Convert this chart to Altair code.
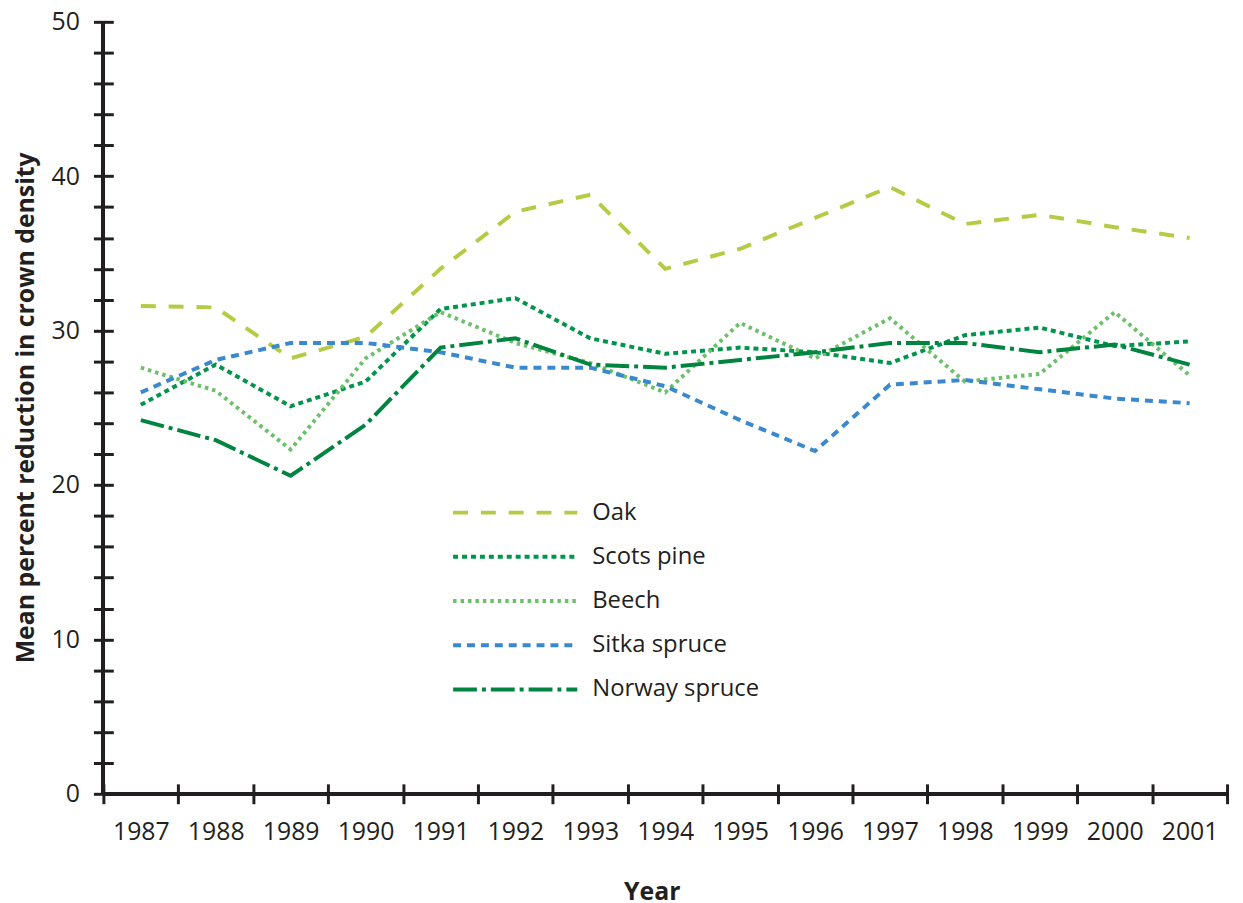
import altair as alt
import pandas as pd

years = [str(y) for y in range(1987, 2002)]
species = ["Oak", "Scots pine", "Beech", "Sitka spruce", "Norway spruce"]
oak = [31.6, 31.5, 28.2, 29.6, 34.0, 37.7, 38.8, 34.0, 35.3, 37.3, 39.3, 36.9, 37.5, 36.7, 36.0]
scots_pine = [25.2, 27.8, 25.1, 26.7, 31.4, 32.1, 29.5, 28.5, 28.9, 28.6, 27.9, 29.7, 30.2, 29.0, 29.3]
beech = [27.6, 26.1, 22.3, 28.2, 31.2, 29.2, 27.9, 26.0, 30.5, 28.2, 30.8, 26.7, 27.2, 31.2, 27.1]
sitka_spruce = [26.0, 28.1, 29.2, 29.2, 28.6, 27.6, 27.6, 26.4, 24.2, 22.2, 26.5, 26.8, 26.2, 25.6, 25.3]
norway_spruce = [24.2, 22.9, 20.6, 23.9, 28.9, 29.5, 27.8, 27.6, 28.1, 28.6, 29.2, 29.2, 28.6, 29.1, 27.8]

colors = ["#B4CB45", "#00954C", "#6CC06A", "#3A88CE", "#00843F"]
dashes = [[15, 13], [5, 4], [3.5, 4], [8, 6], [24, 5, 4, 5]]

series = [oak, scots_pine, beech, sitka_spruce, norway_spruce]
rows = []
for name, vals in zip(species, series):
    for yr, v in zip(years, vals):
        rows.append({"year": yr, "species": name, "value": v})
df = pd.DataFrame(rows)

W, H = 1131, 777
FONT = "Open Sans"
INK = "#231f20"

legend = alt.Legend(
    title=None, orient="none", legendX=350, legendY=484,
    symbolType="stroke", symbolSize=15625, symbolStrokeWidth=4,
    labelOffset=13, labelFontSize=24, labelFont=FONT, labelColor=INK,
    labelLimit=400, clipHeight=20, rowPadding=20.5, padding=0,
)

x_enc = alt.X(
    "year:O",
    scale=alt.Scale(type="band", paddingInner=0, paddingOuter=0, domain=years),
    axis=alt.Axis(
        title="Year", tickBand="extent", tickSize=20, offset=-10, domain=False,
        tickWidth=3, tickColor=INK, labelAngle=0, labelBaseline="alphabetic",
        labelPadding=36, labelFontSize=25, labelFont=FONT, labelColor=INK,
        titleX=552, titleY=116, titleAlign="center", titleBaseline="alphabetic",
        titleFontSize=25, titleFont=FONT, titleFontWeight="bold", titleColor=INK,
        grid=False,
    ),
)
y_enc = alt.Y(
    "value:Q",
    scale=alt.Scale(domain=[0, 50], nice=False),
    axis=alt.Axis(
        title="Mean percent reduction in crown density",
        values=list(range(0, 51, 2)), tickCount=30,
        labelExpr="datum.value % 10 === 0 ? datum.label : ''",
        labelOverlap=False,
        tickSize=20, offset=-10, domain=False, tickWidth=3, tickColor=INK,
        labelPadding=14, labelFontSize=25, labelFont=FONT, labelColor=INK,
        titleX=-80, titleY=388, titleAngle=270, titleAlign="center",
        titleBaseline="alphabetic", titleFontSize=25, titleFont=FONT,
        titleFontWeight="bold", titleColor=INK, grid=False,
    ),
)

lines = alt.Chart(df).mark_line(strokeWidth=4).encode(
    x=x_enc,
    y=y_enc,
    color=alt.Color("species:N", scale=alt.Scale(domain=species, range=colors), legend=legend),
    strokeDash=alt.StrokeDash("species:N", scale=alt.Scale(domain=species, range=dashes), legend=legend),
)

axis_y_line = alt.Chart(df).mark_rule(strokeWidth=3, color=INK).encode(
    x=alt.value(0), y=alt.YDatum(0), y2=alt.Y2Datum(50)
)
axis_x_line = alt.Chart(df).mark_rule(strokeWidth=3, color=INK).encode(
    x=alt.value(0), x2=alt.value(W), y=alt.YDatum(0)
)

chart = alt.layer(axis_y_line, axis_x_line, lines).properties(
    width=W, height=H,
    padding={"left": 96, "top": 11, "right": 8, "bottom": 107},
    autosize=alt.AutoSizeParams(type="none"),
).configure_view(stroke=None)

chart.save("out.html", embed_options={"renderer": "svg", "actions": False})
